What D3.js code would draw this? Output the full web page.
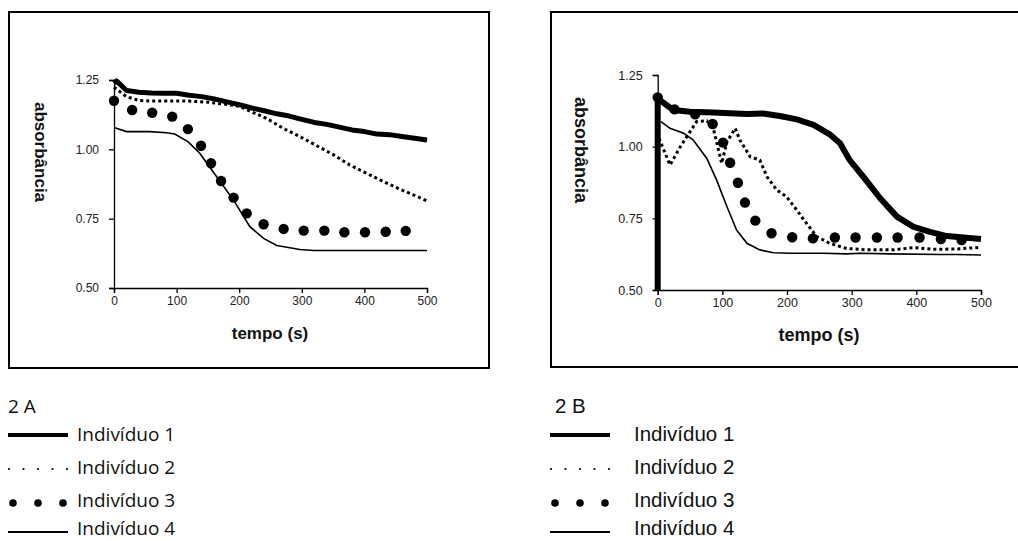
<!DOCTYPE html>
<html><head><meta charset="utf-8">
<script src="https://cdn.jsdelivr.net/npm/d3@7"></script>
<style>body{margin:0;background:#fff}svg{display:block}</style>
</head><body>
<svg id="c" width="1018" height="541"></svg>
<script>
// ---------- data ----------
const xTicks = [0, 100, 200, 300, 400, 500];
const yTicks = [0.50, 0.75, 1.00, 1.25];
const legendLabels = ["Indivíduo 1", "Indivíduo 2", "Indivíduo 3", "Indivíduo 4"];
const panelTitles = ["2 A", "2 B"];
const xTitle = "tempo (s)";
const yTitle = "absorbância";

// Panel A
const tA1 = [0, 4, 20, 40, 60, 80, 100, 120, 140, 160, 180, 200, 220, 240, 260, 280, 300, 320, 340, 360, 380, 400, 420, 440, 460, 480, 500];
const vA1 = [1.238, 1.247, 1.212, 1.206, 1.203, 1.202, 1.202, 1.195, 1.19, 1.182, 1.171, 1.161, 1.149, 1.139, 1.128, 1.12, 1.108, 1.097, 1.09, 1.08, 1.07, 1.064, 1.055, 1.053, 1.046, 1.040, 1.034];
const tA2 = [0, 20, 40, 60, 80, 100, 120, 150, 180, 200, 220, 245, 270, 297, 324, 351, 377, 404, 431, 457, 479, 500];
const vA2 = [1.224, 1.19, 1.176, 1.174, 1.174, 1.174, 1.174, 1.17, 1.162, 1.155, 1.135, 1.11, 1.076, 1.046, 1.013, 0.98, 0.943, 0.913, 0.883, 0.856, 0.835, 0.814];
const tA3 = [0, 29, 61, 93, 118, 139, 155, 171, 191, 212, 239, 271, 303, 336, 368, 401, 434, 466];
const vA3 = [1.175, 1.142, 1.132, 1.118, 1.073, 1.013, 0.95, 0.886, 0.826, 0.769, 0.730, 0.713, 0.707, 0.707, 0.701, 0.701, 0.703, 0.706];
const tA4 = [0, 20, 57, 84, 97, 118, 137, 164, 191, 217, 239, 260, 297, 319, 400, 500];
const vA4 = [1.079, 1.064, 1.064, 1.06, 1.055, 1.028, 0.986, 0.901, 0.817, 0.721, 0.679, 0.653, 0.639, 0.635, 0.635, 0.635];

// Panel B
const tB1 = [0, 0, 3, 24, 50, 86, 138, 163, 189, 215, 241, 266, 282, 297, 318, 344, 370, 395, 421, 447, 473, 500];
const vB1 = [0.50, 1.169, 1.163, 1.128, 1.122, 1.119, 1.114, 1.116, 1.107, 1.095, 1.076, 1.043, 1.012, 0.953, 0.895, 0.82, 0.756, 0.721, 0.703, 0.688, 0.683, 0.678];
const tB2 = [2, 19, 35, 60, 76, 86, 99, 107, 120, 127, 143, 158, 169, 184, 199, 215, 230, 246, 266, 292, 323, 364, 396, 426, 462, 500];
const vB2 = [1.029, 0.936, 1.0, 1.087, 1.09, 1.064, 0.942, 1.017, 1.064, 1.023, 0.965, 0.953, 0.895, 0.849, 0.826, 0.779, 0.733, 0.686, 0.663, 0.645, 0.64, 0.64, 0.648, 0.642, 0.643, 0.649];
const tB3 = [0, 26, 58, 85, 101, 112, 124, 135, 151, 176, 208, 240, 274, 306, 339, 371, 405, 438, 470];
const vB3 = [1.172, 1.13, 1.113, 1.079, 1.014, 0.944, 0.874, 0.805, 0.742, 0.698, 0.684, 0.68, 0.683, 0.683, 0.683, 0.683, 0.683, 0.678, 0.674];
const tB4 = [5, 19, 40, 55, 76, 91, 107, 122, 138, 158, 179, 205, 256, 292, 313, 359, 437, 462, 500];
const vB4 = [1.087, 1.064, 1.047, 1.023, 0.959, 0.884, 0.791, 0.709, 0.663, 0.64, 0.63, 0.628, 0.628, 0.626, 0.628, 0.626, 0.624, 0.624, 0.622];

// ---------- drawing ----------
const svg = d3.select("#c");
const zip = (t, v) => t.map((d, i) => [d, v[i]]);
const ARIAL = "'Liberation Sans', Arial, sans-serif";

function panel(cfg) {
  const g = svg.append("g");
  g.append("rect").attr("x", cfg.box[0]).attr("y", cfg.box[1])
    .attr("width", cfg.box[2]).attr("height", cfg.box[3])
    .attr("fill", "none").attr("stroke", "#000").attr("stroke-width", 2);

  const x = d3.scaleLinear().domain([0, 500]).range([cfg.x0, cfg.x1]);
  const y = d3.scaleLinear().domain([0.5, 1.25]).range([cfg.y0, cfg.y1]);

  const xa = g.append("g").attr("transform", `translate(0,${cfg.y0})`)
    .call(d3.axisBottom(x).tickValues(xTicks).tickFormat(d3.format("d")).tickSizeOuter(0).tickSize(5).tickPadding(3));
  const ya = g.append("g").attr("transform", `translate(${cfg.x0},0)`)
    .call(d3.axisLeft(y).tickValues(yTicks).tickFormat(d3.format(".2f")).tickSizeOuter(0).tickSize(5).tickPadding(10));
  [xa, ya].forEach(a => {
    a.select(".domain").attr("stroke", "#000").attr("stroke-width", 1.3);
    a.selectAll(".tick line").attr("stroke", "#000").attr("stroke-width", 1.3);
    a.selectAll("text").attr("font-family", ARIAL)
      .attr("font-size", cfg.tickFs).attr("fill", "#222");
  });

  g.append("text").attr("x", cfg.xtPos[0]).attr("y", cfg.xtPos[1])
    .attr("text-anchor", "middle").attr("font-family", ARIAL)
    .attr("font-weight", "bold").attr("font-size", cfg.titleFs).attr("fill", "#111").text(xTitle);
  g.append("text").attr("transform", `translate(${cfg.ytPos[0]},${cfg.ytPos[1]}) rotate(90)`)
    .attr("text-anchor", "middle").attr("font-family", ARIAL)
    .attr("font-weight", "bold").attr("font-size", cfg.titleFs).attr("fill", "#111").text(yTitle);

  const line = d3.line().x(d => x(d[0])).y(d => y(d[1])).curve(d3.curveLinear);

  g.append("path").datum(zip(cfg.s4[0], cfg.s4[1])).attr("d", line)
    .attr("fill", "none").attr("stroke", "#000").attr("stroke-width", 1.6);
  g.append("path").datum(zip(cfg.s2[0], cfg.s2[1])).attr("d", line)
    .attr("fill", "none").attr("stroke", "#000").attr("stroke-width", 3).attr("stroke-dasharray", "3,3");
  g.append("path").datum(zip(cfg.s1[0], cfg.s1[1])).attr("d", line)
    .attr("fill", "none").attr("stroke", "#000").attr("stroke-width", cfg.thick).attr("stroke-linejoin", "round");
  g.selectAll("circle.m").data(zip(cfg.s3[0], cfg.s3[1])).enter().append("circle")
    .attr("cx", d => x(d[0])).attr("cy", d => y(d[1])).attr("r", 5.2).attr("fill", "#000");

  // legend
  const L = cfg.leg;
  g.append("text").attr("x", L.titleX).attr("y", 413).attr("font-family", L.font)
    .attr("font-size", L.fs).attr("fill", "#111").text(cfg.title);
  const rows = [435, 469, 503, 532];
  const base = [441, 474, 507, 535];
  legendLabels.forEach((lab, i) => {
    g.append("text").attr("x", L.textX).attr("y", base[i]).attr("font-family", L.font)
      .attr("font-size", L.fs).attr("fill", "#111").text(lab);
  });
  g.append("line").attr("x1", L.sx0).attr("x2", L.sx1).attr("y1", rows[0]).attr("y2", rows[0])
    .attr("stroke", "#000").attr("stroke-width", 4);
  d3.range(5).forEach(k => g.append("circle").attr("cx", L.sx0 + 1 + k * (L.sx1 - L.sx0 - 2) / 4)
    .attr("cy", rows[1]).attr("r", 1.1).attr("fill", "#000"));
  d3.range(3).forEach(k => g.append("circle").attr("cx", L.sx0 + 5 + k * (L.sx1 - L.sx0 - 10) / 2)
    .attr("cy", rows[2]).attr("r", 3.8).attr("fill", "#000"));
  g.append("line").attr("x1", L.sx0).attr("x2", L.sx1).attr("y1", rows[3]).attr("y2", rows[3])
    .attr("stroke", "#000").attr("stroke-width", 2.2);
}

panel({
  box: [9, 12, 480, 356], x0: 114, x1: 427, y0: 288, y1: 80, tickFs: 12, titleFs: 17,
  xtPos: [270, 339], ytPos: [35, 152], thick: 5, title: panelTitles[0],
  s1: [tA1, vA1], s2: [tA2, vA2], s3: [tA3, vA3], s4: [tA4, vA4],
  leg: { font: "'Open Sans', sans-serif", fs: 19, titleX: 8, textX: 77, sx0: 8, sx1: 68 }
});
panel({
  box: [551, 12, 480, 355], x0: 657.7, x1: 981, y0: 290, y1: 75, tickFs: 12.5, titleFs: 18,
  xtPos: [819, 341], ytPos: [575, 150], thick: 6, title: panelTitles[1],
  s1: [tB1, vB1], s2: [tB2, vB2], s3: [tB3, vB3], s4: [tB4, vB4],
  leg: { font: ARIAL, fs: 20.5, titleX: 555, textX: 634, sx0: 550, sx1: 610 }
});
</script>
</body></html>
